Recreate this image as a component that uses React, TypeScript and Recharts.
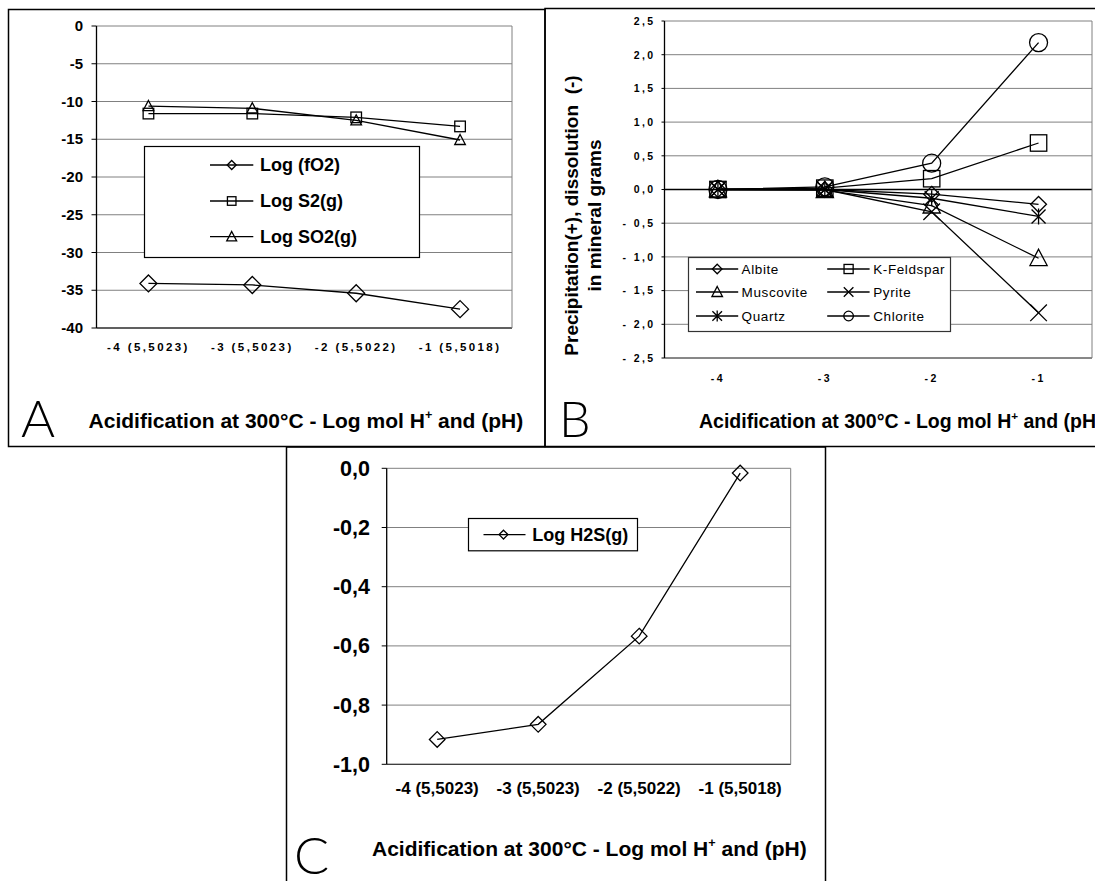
import React from 'react';
import { LineChart, Line, XAxis, YAxis, CartesianGrid, Legend, ReferenceLine } from 'recharts';

const FONT = '"Liberation Sans", Arial, Helvetica, sans-serif';

// ---------- Panel A data ----------
const categoriesA = ['-4 (5,5023)', '-3 (5,5023)', '-2 (5,5022)', '-1 (5,5018)'];
const logFO2 = [-34.1, -34.3, -35.4, -37.5];
const logS2 = [-11.6, -11.6, -12.1, -13.3];
const logSO2 = [-10.6, -10.9, -12.5, -15.1];
const ticksA = [0, -5, -10, -15, -20, -25, -30, -35, -40];

// ---------- Panel B data ----------
const categoriesB = ['-4', '-3', '-2', '-1'];
const albite = [0, 0, -0.07, -0.22];
const kFeldspar = [0, 0.02, 0.16, 0.69];
const muscovite = [0, -0.01, -0.24, -1.02];
const pyrite = [0, 0, -0.33, -1.83];
const quartz = [0, 0, -0.13, -0.4];
const chlorite = [0, 0.04, 0.39, 2.18];
const ticksB = [2.5, 2, 1.5, 1, 0.5, 0, -0.5, -1, -1.5, -2, -2.5];

// ---------- Panel C data ----------
const categoriesC = ['-4 (5,5023)', '-3 (5,5023)', '-2 (5,5022)', '-1 (5,5018)'];
const logH2S = [-0.916, -0.865, -0.567, -0.016];
const ticksC = [0, -0.2, -0.4, -0.6, -0.8, -1];

const dataA = categoriesA.map((cat, i) => ({ cat, fO2: logFO2[i], S2: logS2[i], SO2: logSO2[i] }));
const dataB = categoriesB.map((cat, i) => ({
  cat,
  albite: albite[i],
  kfeld: kFeldspar[i],
  musc: muscovite[i],
  pyrite: pyrite[i],
  quartz: quartz[i],
  chlorite: chlorite[i],
}));
const dataC = categoriesC.map((cat, i) => ({ cat, h2s: logH2S[i] }));

const boundaries = (n: number) => Array.from({ length: n - 1 }, (_, i) => i + 1);

type Shape = 'diamond' | 'square' | 'triangle' | 'cross' | 'star' | 'circle';

function Marker({ shape, cx, cy, s, sw = 1.3 }: { shape: Shape; cx: number; cy: number; s: number; sw?: number }) {
  if (cx == null || cy == null || isNaN(cx) || isNaN(cy)) return null;
  const st = { fill: 'none', stroke: '#000', strokeWidth: sw };
  switch (shape) {
    case 'diamond':
      return <polygon points={`${cx},${cy - s} ${cx + s},${cy} ${cx},${cy + s} ${cx - s},${cy}`} {...st} />;
    case 'square':
      return <rect x={cx - s} y={cy - s} width={2 * s} height={2 * s} {...st} />;
    case 'triangle':
      return <polygon points={`${cx},${cy - s * 1.05} ${cx + s},${cy + s * 0.85} ${cx - s},${cy + s * 0.85}`} {...st} />;
    case 'cross':
      return <path d={`M${cx - s},${cy - s}L${cx + s},${cy + s}M${cx - s},${cy + s}L${cx + s},${cy - s}`} {...st} />;
    case 'star':
      return (
        <path
          d={`M${cx - s},${cy - s}L${cx + s},${cy + s}M${cx - s},${cy + s}L${cx + s},${cy - s}M${cx},${cy - s * 1.15}L${cx},${cy + s * 1.15}`}
          {...st}
        />
      );
    case 'circle':
      return <circle cx={cx} cy={cy} r={s} {...st} />;
  }
  return null;
}

const dotOf = (shape: Shape, s: number) => (p: any) => (
  <g key={`dot-${shape}-${p.index}`}>
    <Marker shape={shape} cx={p.cx} cy={p.cy} s={s} />
  </g>
);

function makeTick(o: {
  size: number;
  weight?: number;
  spacing?: number;
  anchor: 'start' | 'middle' | 'end';
  dy: number;
  fmt?: (v: any) => string;
}) {
  return (props: any) => {
    const { x, y, payload } = props;
    const label = o.fmt ? o.fmt(payload.value) : String(payload.value);
    return (
      <text
        x={x}
        y={y}
        dy={o.dy}
        textAnchor={o.anchor}
        fontFamily={FONT}
        fontSize={o.size}
        fontWeight={o.weight ?? 700}
        letterSpacing={o.spacing ?? 0}
        fill="#000"
        style={{ whiteSpace: 'pre' }}
      >
        {label}
      </text>
    );
  };
}

const comma = (v: number) => (Math.abs(v) < 1e-9 ? '0,0' : v.toFixed(1).replace('.', ','));
const commaSpaced = (v: number) => {
  const s = comma(v);
  return s.startsWith('-') ? '- ' + s.slice(1) : s;
};

type LegendCfg = {
  w: number;
  h: number;
  size: number;
  weight: number;
  spacing: number;
  rows: number[];
  cols: { x0: number; x1: number; mx: number; tx: number }[];
  ms: number;
  shapes: Record<string, Shape>;
  fallback: { key: string; name: string }[];
  border: string;
};

const makeLegend = (cfg: LegendCfg) => (props: any) => {
  const order = cfg.fallback.map((f) => f.key);
  const payload: { key: string; name: string }[] =
    props && props.payload && props.payload.length
      ? props.payload
          .map((e: any) => ({ key: String(e.dataKey), name: String(e.value) }))
          .sort((a: any, b: any) => order.indexOf(a.key) - order.indexOf(b.key))
      : cfg.fallback;
  const ncols = cfg.cols.length;
  return (
    <svg width={cfg.w} height={cfg.h} style={{ display: 'block', overflow: 'visible' }}>
      <rect x={0.5} y={0.5} width={cfg.w - 1} height={cfg.h - 1} fill="#fff" stroke={cfg.border} strokeWidth={1.2} />
      {payload.map((e, i) => {
        const col = cfg.cols[i % ncols];
        const y = cfg.rows[Math.floor(i / ncols)];
        const shape = cfg.shapes[e.key];
        return (
          <g key={e.key}>
            <line x1={col.x0} x2={col.x1} y1={y} y2={y} stroke="#000" strokeWidth={1.3} />
            <Marker shape={shape} cx={col.mx} cy={y} s={cfg.ms * (shape === 'square' ? 0.95 : shape === 'triangle' ? 1.1 : 1)} />
            <text
              x={col.tx}
              y={y}
              dy="0.36em"
              fontFamily={FONT}
              fontSize={cfg.size}
              fontWeight={cfg.weight}
              letterSpacing={cfg.spacing}
              fill="#000"
            >
              {e.name}
            </text>
          </g>
        );
      })}
    </svg>
  );
};

const seriesA = [
  { key: 'fO2', name: 'Log (fO2)', shape: 'diamond' as Shape, s: 8.5 },
  { key: 'S2', name: 'Log S2(g)', shape: 'square' as Shape, s: 5.3 },
  { key: 'SO2', name: 'Log SO2(g)', shape: 'triangle' as Shape, s: 5.3 },
];
const seriesB = [
  { key: 'albite', name: 'Albite', shape: 'diamond' as Shape, s: 7.9 },
  { key: 'kfeld', name: 'K-Feldspar', shape: 'square' as Shape, s: 8.2 },
  { key: 'musc', name: 'Muscovite', shape: 'triangle' as Shape, s: 8.6 },
  { key: 'pyrite', name: 'Pyrite', shape: 'cross' as Shape, s: 8.3 },
  { key: 'quartz', name: 'Quartz', shape: 'star' as Shape, s: 7 },
  { key: 'chlorite', name: 'Chlorite', shape: 'circle' as Shape, s: 9 },
];
const seriesC = [{ key: 'h2s', name: 'Log H2S(g)', shape: 'diamond' as Shape, s: 7.8 }];

const shapeMap = (arr: { key: string; shape: Shape }[]) =>
  arr.reduce((acc, e) => ({ ...acc, [e.key]: e.shape }), {} as Record<string, Shape>);

const legendA = makeLegend({
  w: 276,
  h: 112,
  size: 18,
  weight: 700,
  spacing: 0,
  rows: [19, 55, 90.7],
  cols: [{ x0: 66, x1: 109.3, mx: 87.7, tx: 116 }],
  ms: 4.5,
  shapes: shapeMap(seriesA),
  fallback: seriesA,
  border: '#000',
});
const legendB = makeLegend({
  w: 263,
  h: 75,
  size: 13.5,
  weight: 400,
  spacing: 0.6,
  rows: [12, 35, 59],
  cols: [
    { x0: 8, x1: 50.2, mx: 29.2, tx: 53.6 },
    { x0: 139.2, x1: 181.6, mx: 160.6, tx: 185.2 },
  ],
  ms: 4.8,
  shapes: shapeMap(seriesB),
  fallback: seriesB,
  border: '#333',
});
const legendC = makeLegend({
  w: 170,
  h: 33.3,
  size: 18,
  weight: 700,
  spacing: 0,
  rows: [16.6],
  cols: [{ x0: 15.5, x1: 57.5, mx: 35.5, tx: 64.3 }],
  ms: 4.4,
  shapes: shapeMap(seriesC),
  fallback: seriesC,
  border: '#000',
});

function Title({ x, y, size }: { x: number; y: number; size: number }) {
  return (
    <text x={x} y={y} fontFamily={FONT} fontWeight={700} fontSize={size} fill="#000" style={{ whiteSpace: 'pre' }}>
      Acidification at 300°C - Log mol H
      <tspan fontSize={size * 0.6} dy={-size * 0.42}>
        +
      </tspan>
      <tspan dy={size * 0.42}> and (pH)</tspan>
    </text>
  );
}

const GRID = '#808080';
const LETTER_FONT = "Lato, 'DejaVu Sans', sans-serif";

export default function App() {
  return (
    <div style={{ position: 'absolute', left: 0, top: 0, width: 1095, height: 881, background: '#fff', overflow: 'hidden' }}>
      <svg width={1095} height={881} style={{ position: 'absolute', left: 0, top: 0 }}>
        <rect x={8.5} y={9.5} width={536.5} height={437} fill="none" stroke="#000" strokeWidth={1.5} />
        <rect x={545} y={8.5} width={560} height={438} fill="none" stroke="#000" strokeWidth={1.5} />
        <rect x={286.5} y={447} width={539} height={450} fill="none" stroke="#000" strokeWidth={1.5} />
        <text x={21} y={437} fontFamily={LETTER_FONT} fontWeight={300} fontSize={52} fill="#000">
          A
        </text>
        <text x={559} y={437} fontFamily={LETTER_FONT} fontWeight={300} fontSize={50} fill="#000">
          B
        </text>
        <text x={294} y={874} fontFamily={LETTER_FONT} fontWeight={300} fontSize={52} fill="#000">
          C
        </text>
        <Title x={88.6} y={428} size={21} />
        <Title x={699} y={428} size={19.5} />
        <Title x={372} y={856} size={21} />
      </svg>

      {/* Panel A */}
      <div style={{ position: 'absolute', left: 0, top: 0 }}>
        <LineChart width={545} height={447} data={dataA} margin={{ top: 26, right: 32, bottom: 89, left: 0 }}>
          <CartesianGrid vertical={false} stroke={GRID} strokeWidth={1} />
          <XAxis
            dataKey="cat"
            scale="band"
            height={30}
            interval={0}
            axisLine={{ stroke: '#404040', strokeWidth: 1.3 }}
            tickLine={false}
            tickSize={0}
            tickMargin={0}
            tick={makeTick({ size: 11.5, spacing: 2.4, anchor: 'middle', dy: 23 })}
          />
          <XAxis
            xAxisId="t"
            type="number"
            orientation="top"
            domain={[0, categoriesA.length]}
            ticks={boundaries(categoriesA.length)}
            allowDataOverflow
            height={0}
            tick={false}
            axisLine={false}
            tickLine={{ stroke: '#000', strokeWidth: 1 }}
            tickSize={4}
          />
          <YAxis
            domain={[-40, 0]}
            ticks={ticksA}
            interval={0}
            width={96.5}
            axisLine={{ stroke: '#000', strokeWidth: 1.3 }}
            tickLine={{ stroke: '#000', strokeWidth: 1 }}
            tickSize={5}
            tickMargin={8.5}
            tick={makeTick({ size: 15, anchor: 'end', dy: 5.2 })}
          />
          <YAxis yAxisId="r" orientation="right" width={1} domain={[0, 1]} tick={false} tickLine={false} axisLine={{ stroke: GRID }} />
          <Legend
            layout="horizontal"
            verticalAlign="middle"
            align="center"
            width={276}
            height={112}
            wrapperStyle={{ left: 144, top: 146, width: 276, height: 112 }}
            content={legendA}
          />
          {seriesA.map((s) => (
            <Line
              key={s.key}
              type="linear"
              dataKey={s.key}
              name={s.name}
              stroke="#000"
              strokeWidth={1.3}
              dot={dotOf(s.shape, s.s)}
              activeDot={false}
              isAnimationActive={false}
            />
          ))}
        </LineChart>
      </div>

      {/* Panel B */}
      <div style={{ position: 'absolute', left: 545, top: 0 }}>
        <LineChart width={550} height={447} data={dataB} margin={{ top: 21, right: 2, bottom: 59, left: 0 }}>
          <CartesianGrid vertical={false} stroke={GRID} strokeWidth={1} />
          <XAxis
            dataKey="cat"
            scale="band"
            height={30}
            interval={0}
            axisLine={{ stroke: '#505050', strokeWidth: 1.2 }}
            tickLine={false}
            tickSize={0}
            tickMargin={0}
            tick={makeTick({ size: 10.5, spacing: 2.4, anchor: 'middle', dy: 23.5 })}
          />
          <YAxis
            domain={[-2.5, 2.5]}
            ticks={ticksB}
            interval={0}
            width={119.5}
            axisLine={{ stroke: '#000', strokeWidth: 1.3 }}
            tickLine={{ stroke: '#000', strokeWidth: 1 }}
            tickSize={3}
            tickMargin={6}
            tick={makeTick({ size: 10.5, spacing: 2.4, anchor: 'end', dy: 3.8, fmt: commaSpaced })}
            label={{
              content: (p: any) => {
                const vb = p.viewBox || { x: 0, y: 21, width: 119.5, height: 337 };
                const cy = vb.y + vb.height / 2 + 26;
                const x1 = vb.x + 26;
                const x2 = vb.x + 49;
                return (
                  <g>
                    <text
                      x={x1}
                      y={cy}
                      transform={`rotate(-90 ${x1} ${cy})`}
                      textAnchor="middle"
                      dominantBaseline="central"
                      fontFamily={FONT}
                      fontWeight={700}
                      fontSize={19}
                      fill="#000"
                      style={{ whiteSpace: 'pre' }}
                    >
                      Precipitation(+), dissolution  (-)
                    </text>
                    <text
                      x={x2}
                      y={cy}
                      transform={`rotate(-90 ${x2} ${cy})`}
                      textAnchor="middle"
                      dominantBaseline="central"
                      fontFamily={FONT}
                      fontWeight={700}
                      fontSize={19}
                      fill="#000"
                    >
                      in mineral grams
                    </text>
                  </g>
                );
              },
            }}
          />
          <YAxis yAxisId="r" orientation="right" width={1} domain={[0, 1]} tick={false} tickLine={false} axisLine={{ stroke: GRID }} />
          <ReferenceLine y={0} stroke="#000" strokeWidth={1.3} />
          <Legend
            layout="horizontal"
            verticalAlign="middle"
            align="center"
            width={263}
            height={75}
            wrapperStyle={{ left: 142.8, top: 257, width: 263, height: 75 }}
            content={legendB}
          />
          {seriesB.map((s) => (
            <Line
              key={s.key}
              type="linear"
              dataKey={s.key}
              name={s.name}
              stroke="#000"
              strokeWidth={1.3}
              dot={dotOf(s.shape, s.s)}
              activeDot={false}
              isAnimationActive={false}
            />
          ))}
        </LineChart>
      </div>

      {/* Panel C */}
      <div style={{ position: 'absolute', left: 285, top: 445 }}>
        <LineChart width={540} height={436} data={dataC} margin={{ top: 23.3, right: 33.3, bottom: 76.7, left: 0 }}>
          <CartesianGrid vertical={false} stroke={GRID} strokeWidth={1} />
          <XAxis
            dataKey="cat"
            scale="band"
            height={40}
            interval={0}
            axisLine={{ stroke: '#404040', strokeWidth: 1.3 }}
            tickLine={false}
            tickSize={0}
            tickMargin={0}
            tick={makeTick({ size: 17, anchor: 'middle', dy: 29.5 })}
          />
          <XAxis
            xAxisId="t"
            type="number"
            orientation="top"
            domain={[0, categoriesC.length]}
            ticks={boundaries(categoriesC.length)}
            allowDataOverflow
            height={0}
            tick={false}
            axisLine={false}
            tickLine={{ stroke: '#000', strokeWidth: 1 }}
            tickSize={4}
          />
          <YAxis
            domain={[-1, 0]}
            ticks={ticksC}
            interval={0}
            width={101.7}
            axisLine={{ stroke: '#000', strokeWidth: 1.3 }}
            tickLine={{ stroke: '#000', strokeWidth: 1 }}
            tickSize={5}
            tickMargin={11.7}
            tick={makeTick({ size: 21.5, anchor: 'end', dy: 7.5, fmt: comma })}
          />
          <YAxis yAxisId="r" orientation="right" width={1} domain={[0, 1]} tick={false} tickLine={false} axisLine={{ stroke: GRID }} />
          <Legend
            layout="horizontal"
            verticalAlign="middle"
            align="center"
            width={170}
            height={33.3}
            wrapperStyle={{ left: 182.5, top: 72.7, width: 170, height: 33.3 }}
            content={legendC}
          />
          {seriesC.map((s) => (
            <Line
              key={s.key}
              type="linear"
              dataKey={s.key}
              name={s.name}
              stroke="#000"
              strokeWidth={1.3}
              dot={dotOf(s.shape, s.s)}
              activeDot={false}
              isAnimationActive={false}
            />
          ))}
        </LineChart>
      </div>
    </div>
  );
}
